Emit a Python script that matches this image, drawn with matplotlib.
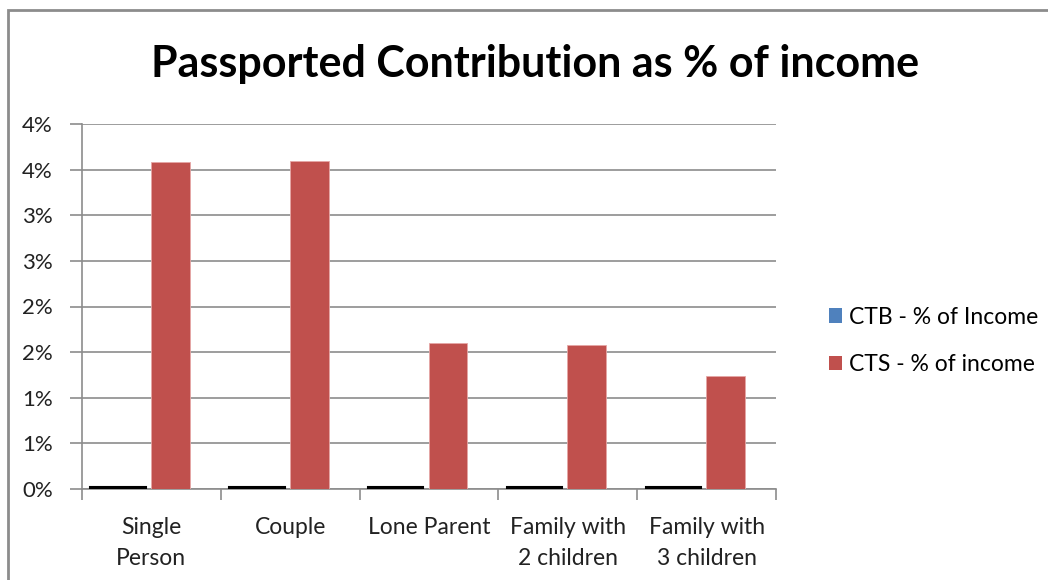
import numpy as np
import matplotlib
matplotlib.use("Agg")
import matplotlib.pyplot as plt
from matplotlib.patches import Rectangle

# contribution as % of income, by household type
categories = ["Single\nPerson", "Couple", "Lone Parent", "Family with\n2 children", "Family with\n3 children"]
ctb_pct = [0.02, 0.02, 0.02, 0.02, 0.02]
cts_pct = [3.58, 3.60, 1.60, 1.58, 1.24]
series_names = ["CTB - % of Income", "CTS - % of income"]
y_ticks = np.arange(0, 4.01, 0.5)

plt.rcParams['font.family'] = ['Lato', 'DejaVu Sans']

fig = plt.figure(figsize=(10.48, 5.8), dpi=100)
ax = fig.add_axes([82/1048, 91/580, 694/1048, 365/580])

x = np.arange(len(categories))
ax.bar(x - 0.24, ctb_pct, width=0.40, color="#4F81BD", edgecolor="black",
       linewidth=1.5, label=series_names[0], zorder=3)
ax.bar(x + 0.137, cts_pct, width=0.28, color="#C0504D", edgecolor="#E6A6A5",
       linewidth=0.6, label=series_names[1], zorder=3)

ax.set_xlim(-0.5, len(categories) - 0.5)
ax.set_ylim(0, 4)
ax.set_yticks(y_ticks)
ax.set_yticklabels([f"{int(np.floor(v + 0.5 + 1e-9))}%" for v in y_ticks])
ax.yaxis.grid(True, color="#8C8C8C", linewidth=1.2, zorder=0)
ax.set_axisbelow(True)

# category labels sit between boundary ticks
ax.set_xticks(np.arange(-0.5, len(categories), 1.0))
ax.set_xticklabels([])
ax.set_xticks(x, minor=True)
ax.set_xticklabels(categories, minor=True, fontsize=16.5, color="#222222",
                   linespacing=1.6)
ax.tick_params(axis="x", which="minor", length=0, pad=20)
ax.tick_params(axis="x", which="major", length=8, color="#8C8C8C", width=1.2)
ax.tick_params(axis="y", length=9, color="#8C8C8C", width=1.2, labelsize=16,
               labelcolor="#222222", pad=12)

for side in ["top", "right"]:
    ax.spines[side].set_visible(False)
for side in ["left", "bottom"]:
    ax.spines[side].set_color("#8C8C8C")
    ax.spines[side].set_linewidth(1.2)

fig.text(535/1048, 1 - 64/580, "Passported Contribution as % of income",
         ha="center", va="center", fontsize=31, fontweight="bold", color="black")

leg = fig.legend(loc="center left", bbox_to_anchor=(808/1048, 1 - 341/580),
                 frameon=False, fontsize=16.5, handlelength=0.6, handleheight=0.6,
                 handletextpad=0.3, labelspacing=1.15)
for h in leg.legend_handles:
    h.set_edgecolor("none")
    h.set_linewidth(0)

# chart area border
fig.patches.append(Rectangle((8/1048, -0.1), 1.2, 1.1 - 10/580, transform=fig.transFigure,
                             fill=False, edgecolor="#8C8C8C", linewidth=2))

fig.savefig("out.png", dpi=100)
